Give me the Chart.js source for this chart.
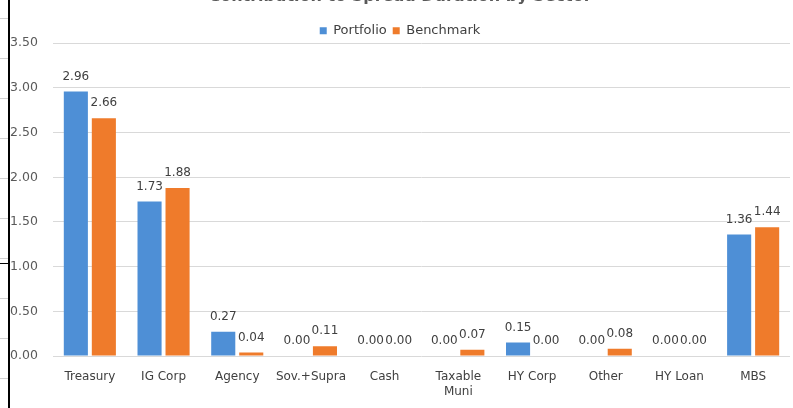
<!DOCTYPE html>
<html>
<head>
<meta charset="utf-8">
<script src="https://cdn.jsdelivr.net/npm/chart.js@4.4.1/dist/chart.umd.min.js"></script>
<style>
  html, body { margin: 0; padding: 0; background: #fff; overflow: hidden; }
  #page { position: relative; width: 793px; height: 408px; overflow: hidden; }
  #wrap { position: absolute; left: 0; top: -14px; width: 793px; height: 422px; }
  #borde { position: absolute; left: 8px; top: 0; width: 2px; height: 408px; background: #000; }
  #marca { position: absolute; left: 0; top: 263px; width: 8px; height: 1px; background: #000; }
  #celdas { position: absolute; left: 0; top: 0; width: 8px; height: 408px;
    background: repeating-linear-gradient(to bottom, transparent 0, transparent 39px, #d0d0d0 39px, #d0d0d0 40px); background-position: 0 -21px; }
</style>
</head>
<body>
<div id="page">
  <div id="wrap"><canvas id="grafica"></canvas></div>
  <div id="celdas"></div>
  <div id="borde"></div>
  <div id="marca"></div>
</div>
<script>
// Datos de la gráfica
const sectores = ['Treasury', 'IG Corp', 'Agency', 'Sov.+Supra', 'Cash', ['Taxable', 'Muni'], 'HY Corp', 'Other', 'HY Loan', 'MBS'];
const portfolio = [2.96, 1.73, 0.27, 0.00, 0.00, 0.00, 0.15, 0.00, 0.00, 1.36];
const benchmark = [2.66, 1.88, 0.04, 0.11, 0.00, 0.07, 0.00, 0.08, 0.00, 1.44];
const ticksY = [0, 0.5, 1.0, 1.5, 2.0, 2.5, 3.0, 3.5];

const azul = '#4e8fd6';
const naranja = '#ef7b2b';
const fuente = 'DejaVu Sans';

// Etiquetas de valor encima de cada barra
const etiquetasValor = {
    id: 'etiquetasValor',
    afterDatasetsDraw(chart) {
        const ctx = chart.ctx;
        ctx.save();
        ctx.font = '12px "' + fuente + '"';
        ctx.fillStyle = '#404040';
        ctx.textAlign = 'center';
        ctx.textBaseline = 'bottom';
        chart.data.datasets.forEach((ds, i) => {
            chart.getDatasetMeta(i).data.forEach((bar, j) => {
                ctx.fillText(ds.data[j].toFixed(2), bar.x, bar.y - 9);
            });
        });
        ctx.restore();
    }
};

// La leyenda ocupa menos alto para acercar el área de la gráfica
const ajusteLeyenda = {
    id: 'ajusteLeyenda',
    beforeLayout(chart) {
        const leg = chart.legend;
        if (leg && !leg._ajustado) {
            const fitOrig = leg.fit.bind(leg);
            leg.fit = function () { fitOrig(); this.height -= 4; };
            leg._ajustado = true;
        }
    }
};

new Chart(document.getElementById('grafica'), {
    type: 'bar',
    data: {
        labels: sectores,
        datasets: [
            { label: 'Portfolio', data: portfolio, backgroundColor: azul },
            { label: 'Benchmark', data: benchmark, backgroundColor: naranja }
        ]
    },
    options: {
        responsive: true,
        maintainAspectRatio: false,
        animation: false,
        datasets: { bar: { categoryPercentage: 0.76, barPercentage: 0.86 } },
        layout: { padding: { left: 10, right: 3, top: 0, bottom: 0 } },
        plugins: {
            title: {
                display: true,
                text: 'Contribution to Spread Duration by Sector',
                color: '#595959',
                font: { family: fuente, size: 16, weight: 'bold' },
                padding: { top: 1, bottom: 12 }
            },
            legend: {
                position: 'top',
                labels: {
                    boxWidth: 7, boxHeight: 7,
                    color: '#404040',
                    font: { family: fuente, size: 13 },
                    padding: 6
                }
            },
            tooltip: { enabled: false }
        },
        scales: {
            x: {
                grid: { display: false, drawTicks: false },
                border: { display: false },
                ticks: { color: '#404040', font: { family: fuente, size: 12, lineHeight: 1.25 }, padding: 13, maxRotation: 0, autoSkip: false },
                afterFit(scale) { scale.height = 52; }
            },
            y: {
                min: 0, max: 3.5,
                afterBuildTicks(scale) { scale.ticks = ticksY.map(v => ({ value: v })); },
                grid: { color: '#d9d9d9', drawTicks: false },
                border: { display: false },
                ticks: { color: '#595959', font: { family: fuente, size: 12.5 }, crossAlign: 'far', padding: 0,
                    callback: v => Number(v).toFixed(2) },
                afterFit(scale) { scale.width = 43; }
            }
        }
    },
    plugins: [etiquetasValor, ajusteLeyenda]
});
</script>
</body>
</html>
